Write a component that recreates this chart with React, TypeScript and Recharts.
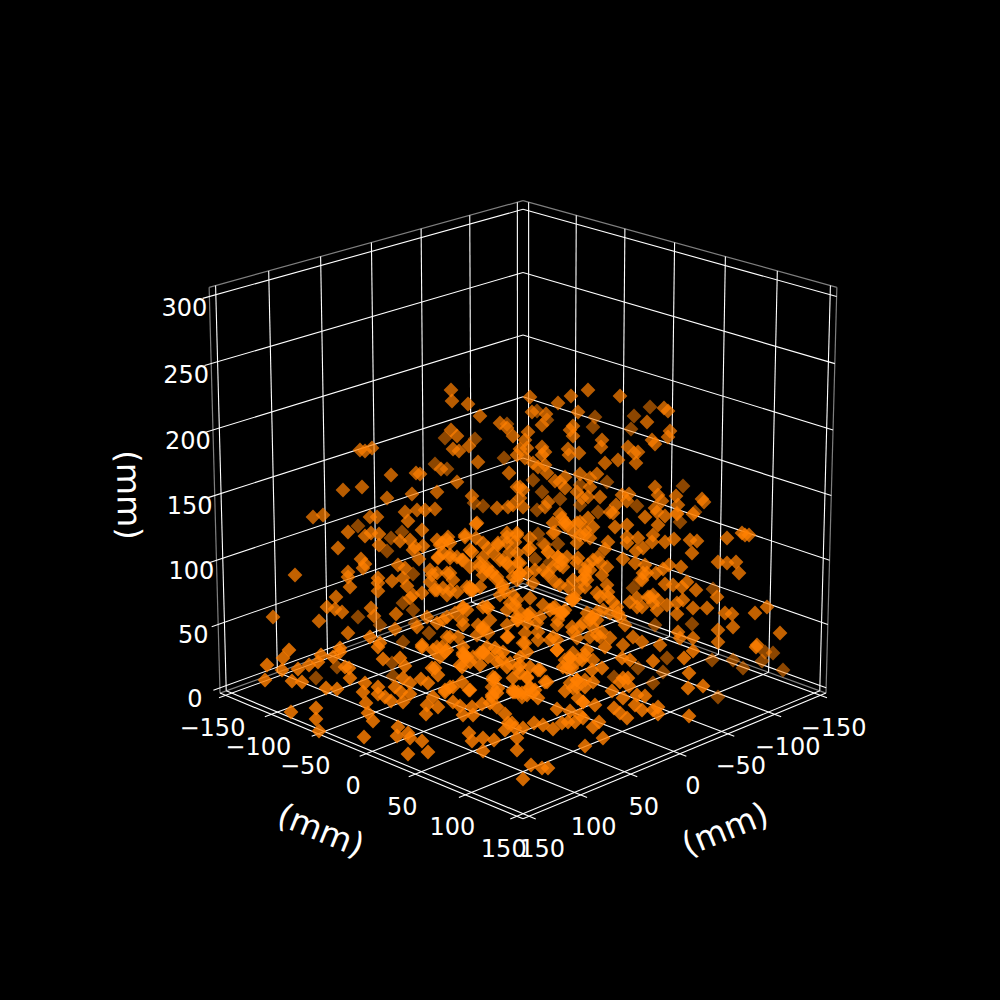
import { ScatterChart, Scatter, XAxis, YAxis, ReferenceLine } from 'recharts'

// tick values in mm
const horizontalTicks = [-150, -100, -50, 0, 50, 100, 150]
const heightTicks = [0, 50, 100, 150, 200, 250, 300]
const unitLabel = '(mm)'

// scatter marks, [across, down] on the viewing plane
const dimPoints: [number, number][] = [
  [507,424],[445,438],[475,439],[504,458],[447,469],[435,464],[483,506],[474,503],[537,411],[547,420],[595,417],[593,427],
  [634,416],[650,407],[631,429],[533,480],[542,492],[560,499],[607,482],[580,485],[683,486],[637,506],[391,538],[402,532],
  [387,551],[358,526],[429,633],[413,574],[358,617],[337,667],[316,678],[392,663],[393,676],[653,683],[663,672],[614,677],
  [638,668],[667,658],[733,660],[743,668],[783,670],[765,652],[773,653],[762,661],[712,660],[718,697],[543,544],[558,544],
  [548,552],[535,559],[550,562],[538,534],[545,545],[555,532],[548,573],[680,522],[640,580],[633,588],[530,617],[403,642],
  [380,625],[415,623],[413,610],[403,603],[598,512],[580,505],[537,510],[677,513],[695,512],[655,625],[692,624],[713,589],
]
const upperPoints: [number, number][] = [
  [451,390],[452,401],[468,404],[480,416],[500,423],[507,428],[513,436],[451,430],[457,436],[453,449],[459,451],[469,446],
  [478,462],[517,455],[365,451],[372,448],[360,450],[441,469],[391,475],[416,473],[420,474],[457,482],[509,473],[343,490],
  [362,487],[387,498],[412,494],[437,492],[472,496],[497,508],[508,507],[513,505],[517,487],[405,512],[417,510],[425,510],
  [435,509],[313,517],[323,515],[370,517],[377,517],[530,397],[588,390],[571,396],[558,403],[620,396],[664,408],[668,411],
  [532,412],[546,414],[542,425],[578,412],[573,426],[570,430],[573,436],[647,422],[670,431],[668,437],[652,440],[655,444],
  [528,432],[525,440],[520,449],[527,448],[542,447],[545,452],[542,455],[568,449],[569,455],[579,453],[602,440],[601,447],
  [628,447],[638,452],[634,453],[636,463],[618,460],[605,463],[525,458],[533,463],[545,465],[538,467],[547,473],[580,474],
  [597,474],[590,478],[555,481],[565,477],[560,482],[565,488],[520,487],[523,490],[590,487],[577,492],[582,498],[588,497],
  [600,497],[548,502],[545,507],[523,507],[520,498],[622,495],[629,494],[627,501],[616,505],[610,512],[655,487],[658,495],
  [662,501],[655,508],[676,496],[678,505],[702,499],[704,502],[560,514],
]
const middlePoints: [number, number][] = [
  [348,532],[365,536],[371,533],[379,534],[400,541],[410,540],[415,547],[408,521],[422,530],[423,546],[413,550],[379,545],
  [338,548],[361,559],[365,564],[363,568],[295,575],[348,572],[348,577],[378,578],[378,583],[392,581],[350,587],[378,591],
  [398,565],[405,568],[403,578],[407,586],[419,559],[430,570],[432,575],[430,582],[438,558],[442,543],[448,537],[450,555],
  [465,537],[477,523],[476,538],[463,560],[472,552],[483,557],[488,548],[498,543],[507,533],[510,552],[500,560],[480,567],
  [490,573],[447,573],[453,580],[467,587],[480,587],[503,585],[513,577],[437,590],[447,595],[457,592],[470,590],[422,593],
  [413,595],[410,598],[336,597],[327,607],[335,609],[342,612],[371,608],[374,616],[396,614],[427,617],[319,621],[273,617],
  [348,633],[395,629],[447,617],[463,608],[483,607],[490,620],[483,630],[463,625],[447,637],[458,637],[417,627],[553,523],
  [562,518],[568,525],[580,522],[588,518],[613,513],[615,527],[627,525],[645,517],[657,512],[665,516],[658,525],[677,514],
  [693,514],[553,533],[573,532],[580,535],[590,538],[627,537],[627,543],[638,538],[653,535],[652,542],[665,542],[674,539],
  [690,540],[697,541],[727,538],[742,533],[749,535],[745,535],[692,553],[517,533],[530,538],[515,542],[528,550],[558,557],
  [560,565],[578,558],[608,542],[605,549],[598,557],[600,563],[607,567],[588,565],[585,572],[623,559],[636,551],[643,548],
  [635,563],[645,565],[656,573],[647,573],[663,569],[669,565],[681,567],[718,562],[727,563],[736,562],[739,573],[602,575],
  [665,584],[673,585],[682,587],[687,582],[696,590],[717,597],[607,585],[608,592],[600,597],[573,580],[578,590],[585,587],
  [555,582],[560,585],[568,587],[520,573],[518,576],[572,598],[637,598],[648,597],[653,595],[658,600],[613,602],[642,607],
  [657,610],[667,605],[677,603],[683,600],[693,608],[707,608],[677,614],[725,613],[732,614],[755,613],[767,607],[718,630],
  [733,627],[780,633],[630,602],[625,625],[610,613],[597,612],[618,613],[592,617],[517,600],[530,598],[543,605],[555,607],
  [560,613],[517,620],[538,632],[557,625],[572,627],[583,623],[602,632],[577,638],[590,637],[610,638],[550,640],[523,643],
  [623,645],[633,637],[642,642],[660,645],[680,638],[693,638],[718,642],[757,645],[678,632],[476,524],[447,540],[440,545],
  [465,535],[450,558],[438,557],[462,560],[437,573],[450,573],[435,590],[450,590],[472,590],[480,563],[492,572],[502,587],
  [498,545],[493,553],[507,537],[517,535],[530,548],[520,573],[535,570],[548,552],[558,557],[563,567],[548,575],[565,525],
  [585,535],[585,570],[582,580],[572,600],[562,613],[553,608],[530,613],[518,620],[507,610],[507,625],[488,608],[467,610],
  [462,620],[483,628],[477,635],[450,637],[513,595],[527,615],[515,605],[518,563],[470,587],[443,588],[483,575],[500,595],
  [487,607],[575,598],[592,618],[573,632],[597,635],[508,637],[525,633],[538,640],[525,643],[557,640],
]
// the packed middle of the cloud
const densePoints: [number, number][] = [
  [487,570],[497,580],[505,592],[510,603],[517,617],[507,563],[473,590],[463,607],[455,613],[443,620],[437,623],[483,627],
  [488,633],[478,625],[528,615],[537,623],[553,637],[558,620],[563,613],[573,600],[587,580],[590,570],[577,563],[562,560],
  [437,647],[445,652],[463,653],[473,657],[483,652],[497,653],[510,663],[518,668],[527,677],[513,690],[522,697],[533,693],
  [530,687],[493,677],[492,687],[565,660],[573,653],[570,667],[578,660],[585,680],[577,687],[570,683],[593,660],[600,637],
  [593,627],[590,620],[470,567],[487,567],[497,577],[503,560],[483,543],[470,550],[457,557],[443,553],[437,540],[450,543],
  [507,543],[510,567],[517,553],[520,563],[517,580],[527,573],[533,583],[543,570],[553,567],[567,557],[577,543],[585,530],
  [593,527],[565,522],[577,523],[585,577],[593,560],[597,593],[608,597],[617,607],[603,610],[620,617],[597,620],[587,613],
  [580,627],[565,610],[550,610],[540,617],[527,623],[518,610],[637,607],[653,603],[650,597],[642,580],[643,573],
]
const lowerPoints: [number, number][] = [
  [370,637],[380,643],[422,645],[442,647],[463,647],[487,647],[507,637],[340,648],[289,650],[267,665],[283,658],[282,670],
  [265,680],[292,681],[302,682],[298,669],[309,665],[318,662],[321,655],[333,657],[340,652],[345,667],[349,668],[350,678],
  [326,688],[337,689],[365,683],[363,692],[378,687],[378,694],[385,697],[391,701],[395,687],[401,692],[410,683],[410,694],
  [403,702],[403,678],[383,659],[400,658],[405,666],[378,647],[422,647],[366,703],[368,713],[373,721],[316,708],[316,719],
  [319,731],[291,712],[364,737],[398,727],[397,736],[408,733],[410,738],[422,741],[408,754],[428,752],[421,679],[428,683],
  [432,668],[438,675],[445,690],[453,687],[462,682],[469,690],[433,697],[427,705],[438,707],[426,714],[453,702],[460,706],
  [463,715],[473,715],[472,707],[482,704],[490,703],[497,707],[492,695],[498,688],[495,678],[505,714],[508,723],[505,730],
  [515,728],[469,733],[472,741],[483,738],[494,740],[483,751],[517,750],[433,650],[440,657],[447,650],[460,665],[470,662],
  [480,665],[497,662],[507,667],[513,678],[513,692],[463,655],[483,653],[503,652],[523,779],[531,765],[542,768],[548,768],
  [517,738],[523,728],[534,723],[543,725],[553,729],[562,723],[568,722],[575,722],[583,718],[593,727],[599,722],[603,738],
  [585,746],[557,709],[570,711],[580,715],[512,723],[583,702],[578,698],[595,705],[614,708],[620,713],[627,718],[623,698],
  [612,691],[637,695],[645,696],[635,705],[642,710],[653,710],[658,707],[658,714],[689,716],[688,688],[703,686],[689,673],
  [628,678],[623,678],[629,686],[620,682],[653,661],[684,658],[693,651],[756,647],[565,691],[573,688],[585,687],[593,682],
  [602,668],[577,680],[563,667],[570,658],[582,660],[587,650],[572,668],[592,670],[547,682],[538,698],[530,688],[540,670],
  [527,678],[515,692],[522,693],[520,665],[527,652],[557,650],[605,647],[622,658],[630,660],[467,657],[480,653],[495,648],
  [557,650],[570,658],[585,655],[567,668],[577,680],[520,657],[530,667],[538,670],[545,682],[520,673],[518,692],[527,695],
  [493,680],[502,660],[488,657],[465,657],[470,690],[450,687],[435,668],[462,667],[445,692],[492,697],[497,693],[583,702],
  [535,690],
]

const PLANE = 1000
const AXIS_LIMIT = 156 // mm, half width of the box
const HEIGHT_LOW = -4.2
const HEIGHT_HIGH = 306.8

// camera fitted to the box corners
const CAM = { cx: 523, cy: 493.8, focal: 4186, dist: 19.2, halfHeight: 0.99, sin: Math.sin(Math.PI / 9), cos: Math.cos(Math.PI / 9) }

function project(a: number, b: number, w: number) {
  const across = (a - b) / Math.SQRT2
  const depth = (a + b) / Math.SQRT2
  const toward = depth * CAM.cos + w * CAM.sin
  const up = w * CAM.cos - depth * CAM.sin
  const scale = CAM.focal / (CAM.dist - toward)
  return { x: CAM.cx + across * scale, y: CAM.cy - up * scale }
}

const norm = (mm: number) => mm / AXIS_LIMIT
const normH = (mm: number) => -CAM.halfHeight + ((mm - HEIGHT_LOW) / (HEIGHT_HIGH - HEIGHT_LOW)) * 2 * CAM.halfHeight
const FLOOR = -CAM.halfHeight
const TOP = CAM.halfHeight
const TICK_OUT = 1.04

type Seg = [{ x: number; y: number }, { x: number; y: number }]

const gridSegments: Seg[] = [
  ...horizontalTicks.flatMap((t): Seg[] => [
    [project(-1, norm(t), FLOOR), project(-1, norm(t), TOP)],
    [project(norm(t), -1, FLOOR), project(norm(t), -1, TOP)],
    [project(norm(t), -1, FLOOR), project(norm(t), TICK_OUT, FLOOR)],
    [project(-1, norm(t), FLOOR), project(TICK_OUT, norm(t), FLOOR)],
  ]),
  ...heightTicks.flatMap((z): Seg[] => [
    [project(-1, -1, normH(z)), project(-1, TICK_OUT, normH(z))],
    [project(-1, -1, normH(z)), project(1, -1, normH(z))],
  ]),
]

const paneSegments: Seg[] = [
  [project(-1, 1, TOP), project(-1, -1, TOP)],
  [project(-1, -1, TOP), project(1, -1, TOP)],
  [project(-1, 1, TOP), project(-1, 1, FLOOR)],
  [project(1, -1, TOP), project(1, -1, FLOOR)],
  [project(-1, -1, FLOOR), project(-1, 1, FLOOR)],
  [project(-1, -1, FLOOR), project(1, -1, FLOOR)],
]

const axisSegments: Seg[] = [
  [project(-1, 1, FLOOR), project(1, 1, FLOOR)],
  [project(1, -1, FLOOR), project(1, 1, FLOOR)],
]

const fmt = (n: number) => (n < 0 ? '\u2212' + Math.abs(n) : String(n))

const shifted = (p: { x: number; y: number }, dx: number, dy: number) => ({ h: p.x + dx, v: p.y + dy })

const tickText = [
  ...horizontalTicks.map((t) => ({ ...shifted(project(norm(t), 1, FLOOR), -13, 32.5), text: fmt(t), size: 24, rot: 0 })),
  ...horizontalTicks.map((t) => ({ ...shifted(project(1, norm(t), FLOOR), 13, 32.5), text: fmt(t), size: 24, rot: 0 })),
  ...heightTicks.map((z) => ({ ...shifted(project(-1, 1, normH(z)), -25, 11), text: fmt(z), size: 24, rot: 0 })),
  { h: 321, v: 830, text: unitLabel, size: 33, rot: 22 },
  { h: 725, v: 829, text: unitLabel, size: 33, rot: -22 },
  { h: 129, v: 495, text: unitLabel, size: 33, rot: 89 },
]

const toRows = (pts: [number, number][]) => pts.map(([h, v]) => ({ h, v }))

const Diamond = (opacity: number) => (props: any) => {
  const { cx, cy } = props
  const r = 7.4
  return <path d={`M${cx} ${cy - r}L${cx + r} ${cy}L${cx} ${cy + r}L${cx - r} ${cy}Z`} fill="#ff7f00" fillOpacity={opacity} />
}

const Label = (props: any) => {
  const { cx, cy, payload } = props
  return (
    <text
      x={cx}
      y={cy}
      fill="#ffffff"
      fontFamily="DejaVu Sans"
      fontSize={payload.size}
      textAnchor="middle"
      dominantBaseline="central"
      transform={payload.rot ? `rotate(${payload.rot} ${cx} ${cy})` : undefined}
    >
      {payload.text}
    </text>
  )
}

export default function App() {
  return (
    <div style={{ position: 'absolute', left: 0, top: 0, width: PLANE, height: PLANE, background: '#000000' }}>
      <ScatterChart width={PLANE} height={PLANE} margin={{ top: 0, right: 0, bottom: 0, left: 0 }}>
        <XAxis type="number" dataKey="h" domain={[0, PLANE]} hide />
        <YAxis type="number" dataKey="v" domain={[0, PLANE]} reversed hide />
        {paneSegments.map((s, i) => (
          <ReferenceLine key={`pane${i}`} segment={s} stroke="#7f7f7f" strokeWidth={1.2} ifOverflow="visible" />
        ))}
        {gridSegments.map((s, i) => (
          <ReferenceLine key={`grid${i}`} segment={s} stroke="#ffffff" strokeWidth={1.1} ifOverflow="visible" />
        ))}
        {axisSegments.map((s, i) => (
          <ReferenceLine key={`axis${i}`} segment={s} stroke="#ffffff" strokeWidth={1.1} ifOverflow="visible" />
        ))}
        <Scatter data={toRows(dimPoints)} shape={Diamond(0.55)} isAnimationActive={false} />
        <Scatter data={toRows(upperPoints)} shape={Diamond(0.72)} isAnimationActive={false} />
        <Scatter data={toRows(middlePoints)} shape={Diamond(0.76)} isAnimationActive={false} />
        <Scatter data={toRows(densePoints)} shape={Diamond(0.76)} isAnimationActive={false} />
        <Scatter data={toRows(lowerPoints)} shape={Diamond(0.82)} isAnimationActive={false} />
        <Scatter data={tickText} shape={Label} isAnimationActive={false} />
      </ScatterChart>
    </div>
  )
}
